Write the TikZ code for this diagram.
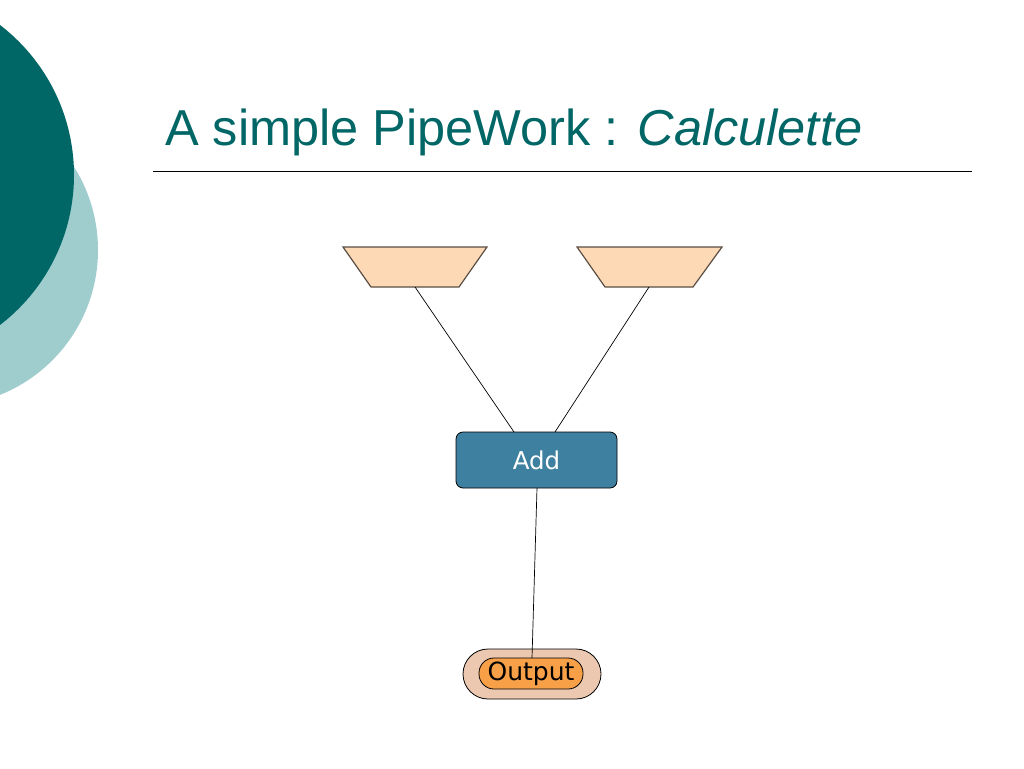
\documentclass[tikz,border=0pt]{standalone}
\usepackage{fontspec}
\setmainfont{Liberation Sans}
\newfontfamily\verd{DejaVu Sans}
\usetikzlibrary{shapes.geometric}
\definecolor{darkteal}{RGB}{0,102,102}
\definecolor{lightteal}{RGB}{159,205,206}
\definecolor{titlecol}{RGB}{0,102,102}
\definecolor{peach}{RGB}{253,218,181}
\definecolor{trapborder}{RGB}{90,78,68}
\definecolor{addfill}{RGB}{62,128,160}
\definecolor{outerfill}{RGB}{236,200,176}
\definecolor{innerfill}{RGB}{247,160,72}
\begin{document}
\begin{tikzpicture}[x=1pt,y=-1pt,
  trap/.style={draw=trapborder,line width=1.2pt,fill=peach},
  conn/.style={draw=black,line width=0.7pt}]
\useasboundingbox (0,0) rectangle (1024,768);
\fill[white] (0,0) rectangle (1024,768);
\begin{scope}
\clip (0,0) rectangle (1024,768);
\fill[lightteal] (-58,250) circle (156);
\fill[darkteal] (-115,175) circle (189);
\end{scope}
\node[anchor=base west,inner sep=0pt,text=titlecol,font=\fontsize{50.5}{55}\selectfont] (title) at (165,145) {A simple PipeWork : \textit{Calculette}};
\coordinate (rl) at (153,171);
\coordinate (rr) at (972,171);
\draw[line width=0.8pt] (rl) -- (rr);
% trapezoids
\draw[trap] (343,247) -- (487,247) -- (459,287) -- (371,287) -- cycle;
\draw[trap] (577,247) -- (722,247) -- (693,287) -- (605,287) -- cycle;
\coordinate (t1) at (415,287);
\coordinate (t2) at (649,287);
% Add box
\node[draw=black,line width=0.8pt,fill=addfill,rounded corners=7pt,minimum width=161pt,minimum height=56pt,inner sep=0pt,text=white,font=\verd\fontsize{24.5}{26}\selectfont] (add) at (536.5,460) {\raisebox{-2pt}{Add}};
% Output
\node[draw=black,line width=0.8pt,fill=outerfill,rounded corners=25pt,minimum width=138pt,minimum height=50pt,inner sep=0pt] (outer) at (532,674) {};
\node[draw=black,line width=0.8pt,fill=innerfill,rounded corners=15pt,minimum width=104pt,minimum height=31pt,inner sep=0pt,font=\verd\fontsize{25}{26}\selectfont] (output) at (531,673.5) {\raisebox{-1.5pt}{Output}};
\coordinate (a1) at (514,432);
\coordinate (a2) at (555,432);
\coordinate (a3) at (537,488);
\coordinate (o1) at (532,658);
\draw[conn] (t1) -- (a1);
\draw[conn] (t2) -- (a2);
\draw[conn] (a3) -- (o1);
\end{tikzpicture}
\end{document}
